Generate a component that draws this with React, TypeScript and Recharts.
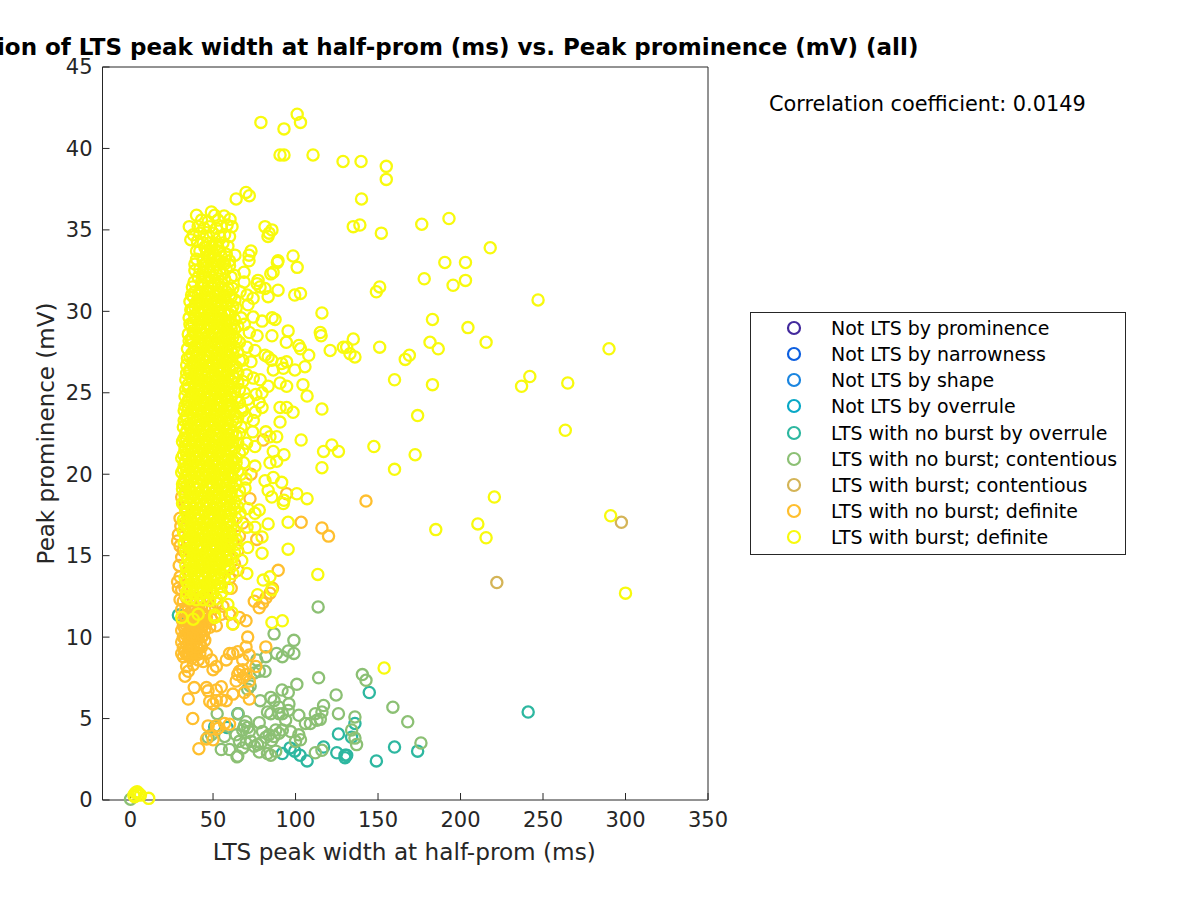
import { Legend, Scatter, ScatterChart, XAxis, YAxis } from "recharts"

type Pair = [number, number]

const xTicks = [0, 50, 100, 150, 200, 250, 300, 350]
const yTicks = [0, 5, 10, 15, 20, 25, 30, 35, 40, 45]

const titleText = "Correlation of LTS peak width at half-prom (ms) vs. Peak prominence (mV) (all)"
const correlationText = "Correlation coefficient: 0.0149"

const seriesNames = [
  "Not LTS by prominence",
  "Not LTS by narrowness",
  "Not LTS by shape",
  "Not LTS by overrule",
  "LTS with no burst by overrule",
  "LTS with no burst; contentious",
  "LTS with burst; contentious",
  "LTS with no burst; definite",
  "LTS with burst; definite",
]
const seriesColors = ["#42299c", "#0d5fe0", "#1a85e0", "#08a8c6", "#2db7a0", "#8cc074", "#d4b457", "#ffbf2e", "#f8fa0d"]

const notProminence: Pair[] = []
const notNarrowness: Pair[] = []
const notShape: Pair[] = []
const notOverrule: Pair[] = []

const noBurstOverrule: Pair[] = [
  [29, 11.35], [241, 5.4], [160, 3.25], [174, 3], [149, 2.4], [126, 4.05], [136, 4.7], [134, 3.85], [117, 3.25], [125, 2.9],
  [130, 2.75], [131, 2.75], [130, 2.6], [107, 2.4], [102.7, 2.75], [99.5, 3], [96.7, 3.2], [92, 2.85], [65, 5.3], [58.5, 4.45],
  [51, 4.5], [144.7, 6.6],
]

const noBurstContentious: Pair[] = [
  [0, 0.05], [113.7, 11.85], [87, 10.2], [99, 9.8], [99, 9], [95.6, 9.15], [92, 8.8], [88.5, 9], [82, 8.8], [76.5, 8.6],
  [81.5, 7.9], [78, 7.9], [75, 7.8], [114, 7.5], [140.5, 7.7], [142.7, 7.35], [100.8, 7.1], [72.5, 7], [71, 6.8], [91.8, 6.75],
  [95.6, 6.6], [85, 6.3], [87, 6.1], [124.6, 6.45], [78.6, 6.1], [159, 5.7], [117, 5.8], [95.6, 5.5], [92, 5.3], [90, 5.3],
  [85, 5.3], [102, 5.2], [126, 5.3], [112, 5.3], [116, 5.4], [115, 4.95], [113, 4.9], [109, 4.7], [136, 5.1], [65.3, 5.3],
  [52.5, 5.3], [94, 4.9], [78, 4.75], [70, 4.8], [69, 4.55], [68, 4.3], [64, 4], [57, 3.9], [71, 4.45], [72, 4.2],
  [168, 4.8], [134, 4.3], [136, 3.8], [137, 3.4], [176, 3.5], [84, 4], [87, 3.9], [90, 4.1], [92, 4.3], [97, 4.2],
  [100, 3.6], [102, 4], [103, 3.7], [79, 3.5], [75, 3.3], [70, 3.5], [68, 3.2], [66, 3.6], [73, 3.6], [77, 3.4],
  [60, 3.1], [65, 2.7], [64.5, 2.65], [78, 2.95], [83, 2.85], [85, 2.75], [88, 3], [112, 2.9], [116, 3.05], [55, 3.1],
  [49, 4], [47, 3.85], [82, 3.85], [85.5, 3.65], [80, 4.2], [88, 4.3], [106, 4.7], [96, 5.9], [90, 5.7], [83, 5.4],
]

const burstContentious: Pair[] = [
  [297.5, 17.05], [222, 13.35],
]

const noBurstDefinite: Pair[] = [
  [142.7, 18.35], [116, 16.7], [120, 16.2], [89.5, 14.1], [82, 9.4], [37.7, 5], [41.4, 3.15], [35, 6.2], [38.6, 6.9], [46, 6.9],
  [47, 6.7], [52, 6.75], [55, 6.95], [62, 6.5], [64, 7.3], [69, 6.6], [72, 6.2], [48, 6.05], [52, 6.1], [55, 6.15],
  [58, 6.1], [50, 5.9], [46, 3.75], [50, 3.7], [53, 4.4], [47, 4.55], [52, 4.55], [57, 4.7], [60, 4.65], [80.4, 22.1],
  [73, 20], [72.4, 18.5], [94.6, 18.8], [103.4, 17.05], [76.5, 16], [65, 14.1], [75, 12.2], [78, 11.8], [80, 12.1], [82, 12.4],
  [84.5, 12.7], [86, 13], [70, 11], [66, 11.2], [62, 10.8], [60, 11.4], [56, 11.9], [52, 12.1], [71, 10], [70, 9.4],
  [65, 9.1], [62, 9], [68, 8.6], [72, 8.9], [76, 8.2], [68, 8], [65, 7.7], [66, 7.9], [68, 7.5], [70, 7.7],
  [72, 7.3], [58, 8.6], [60, 9], [52, 8.2], [50, 8], [49, 8.6], [46, 9], [44, 8.5], [33, 7.6], [35, 7.9],
  [34, 8.2], [38, 8.3], [37, 8.7], [41, 8.6], [31, 9], [33, 9.1], [35, 9], [37, 9.2], [39, 9.1], [41, 9.3],
  [43, 9.4], [31, 9.7], [33, 9.9], [35, 9.7], [37, 9.9], [39, 9.7], [41, 9.9], [43, 10], [45, 9.8], [31, 10.4],
  [33, 10.5], [35, 10.3], [37, 10.5], [39, 10.3], [41, 10.5], [43, 10.6], [45, 10.4], [48, 10.6], [31.5, 11], [34, 11.1],
  [36, 10.9], [38, 11.1], [40, 10.9], [42, 11.1], [44, 11], [46, 11.2], [49, 11.1], [52, 10.7], [31, 11.7], [33, 11.6],
  [35, 11.8], [37, 11.6], [39, 11.8], [41, 11.6], [43, 11.8], [45, 11.7], [48, 11.9], [55, 11.4], [30, 12.3], [32, 12.2],
  [34, 12.4], [36, 12.2], [38, 12.4], [40, 12.2], [42, 12.4], [44, 12.3], [47, 12.4], [29, 13], [31, 12.9], [33, 13],
  [28.5, 13.4], [30, 13.7], [29.5, 14.4], [31, 14.9], [30, 15.6], [28.5, 15.9], [29, 16.3], [30.5, 16.8], [30, 17.3], [31, 18.6],
  [32, 19.4], [33, 18], [32, 15.3], [61, 13], [60, 13.6], [63, 14.5], [65, 15.3], [62, 15.9], [68, 17], [66, 16.2],
  // solid patch under the core
  [32, 8.8], [34, 8.95], [36, 8.85], [38, 9], [40, 8.9], [42, 9], [32, 9.35], [34, 9.5], [36, 9.35], [38, 9.5],
  [40, 9.4], [42, 9.6], [32, 10], [34, 10.1], [36, 10], [38, 10.1], [40, 10], [42, 10.2], [44, 10.1], [32, 10.7],
  [34, 10.7], [36, 10.6], [38, 10.7], [40, 10.6], [42, 10.7], [44, 10.7], [33, 11.3], [35, 11.4], [37, 11.3], [39, 11.4],
  [41, 11.3], [43, 11.4], [45, 11.35],
]

const burstDefinite: Pair[] = [
  // near the origin
  [2, 0.3], [3, 0.45], [4, 0.5], [2.5, 0.2], [5, 0.4], [6, 0.3], [11, 0.1],
  // far points
  [79, 41.6], [101, 42.1], [93, 41.2], [103, 41.6], [90.6, 39.6], [93, 39.6], [110.6, 39.6], [128.8, 39.2], [139.7, 39.2], [155, 38.9],
  [155, 38.1], [140, 36.9], [64, 36.9], [70, 37.3], [72, 37.1], [135, 35.2], [139, 35.3], [152, 34.8], [176.5, 35.35], [193, 35.7],
  [218, 33.9], [190.5, 33], [203, 33], [203, 31.9], [195.5, 31.6], [178, 32], [151, 31.5], [149, 31.2], [247, 30.7], [89, 33],
  [98.5, 33.4], [101, 32.7], [103, 31.1], [99.5, 31], [116, 29.9], [183, 29.5], [204.5, 29], [115, 28.7], [115.5, 28.5], [290, 27.7],
  [215.5, 28.1], [181.5, 28.1], [186.5, 27.7], [135, 28.3], [131, 27.8], [129, 27.8], [133, 27.4], [136, 27.2], [151, 27.8], [169, 27.3],
  [166.5, 27.05], [121, 27.6], [160, 25.8], [242, 26], [265, 25.6], [237, 25.4], [183, 25.5], [116, 24], [174, 23.6], [263.5, 22.7],
  [122, 21.8], [117, 21.4], [126, 21.4], [147.5, 21.7], [172.5, 21.2], [116, 20.4], [160, 20.3], [220.5, 18.6], [210.5, 16.95], [215.5, 16.1],
  [185, 16.6], [291, 17.45], [300, 12.7], [113.5, 13.85], [153.7, 8.1], [92, 11], [95.5, 15.4], [85.7, 10.9],
  [31, 11.2], [38, 11.1], [51, 11.35], [61.5, 11.5], [62, 10.8], [59, 12], [77, 12.6], [85.6, 12.9],
  // loose band right of the core
  [81.5, 35.2], [85.7, 35], [83.3, 34.6], [84, 34.8], [73, 33.7], [71.8, 33.45], [71.8, 33.1], [63.3, 33.45], [89.4, 33.1], [86.4, 32.4],
  [85, 32.3], [68.8, 32.4], [68.8, 31.8], [77.3, 31.9], [76.7, 31.7], [78.5, 31.5], [81.5, 31.4], [89.4, 31.3], [83.4, 30.9], [66.4, 31.2],
  [70.6, 31], [74.3, 30.8], [71.2, 30.4], [63.3, 30.7], [74.3, 29.65], [85.8, 29.6], [87.6, 29.5], [79.7, 29.4], [95.5, 28.8], [76.7, 28.5],
  [85.7, 28.5], [94.4, 28.1], [102, 27.9], [103, 27.7], [108, 27.3], [70.5, 27.8], [75.4, 27.6], [81.5, 27.3], [83.4, 27.2], [85.6, 27],
  [86.5, 26.4], [91.6, 26.8], [94.6, 26.9], [92.6, 26.5], [99.6, 26.4], [105.7, 26.6], [70.4, 26.1], [74.4, 25.9], [78.6, 25.8], [90.6, 25.6],
  [94.6, 25.4], [83.4, 25.4], [104.5, 25.5], [107, 24.8], [79.7, 25], [78, 24.4], [79.7, 24.1], [75.5, 23.8], [74.4, 23.3], [70.4, 23.5],
  [90.6, 24.1], [94.6, 24.1], [98.5, 23.8], [90.6, 23.2], [82, 22.6], [84.5, 22.3], [88.6, 22.3], [103.4, 22.1], [70.4, 21.9], [75.4, 21.7],
  [86.5, 21.4], [93, 21.2], [68.5, 20.7], [75.4, 20.5], [84.5, 20.7], [88.6, 20.8], [81.5, 19.6], [86.5, 19.8], [91.6, 19.5], [100.8, 18.8],
  [83.4, 19], [85.6, 18.6], [92.6, 18.2], [107, 18.5], [93, 18.4], [69.4, 19.15], [78, 17.8], [75.4, 17.6], [71, 17.9], [66.4, 17.6],
  [70.6, 16.75], [75.4, 16.75], [83.4, 16.95], [95.5, 17.05], [79.7, 15.15], [79.7, 16.15], [71, 15.5], [84.5, 13.7], [80.4, 13.5], [70.5, 13.9],
  [67.4, 14.7], [62, 22], [64, 23.2], [66, 24.4], [63, 25.1], [65, 26.2], [62, 27.4], [66, 28.1], [63, 28.9], [67, 29.6],
  [64, 21], [66, 22.5], [68, 23.9], [62, 19.8], [65, 18.7], [63, 17.9], [61, 16.8], [64, 16], [62, 14.9], [60, 14.2],
  [68, 27], [69, 25], [71, 24.6], [67, 20], [70, 19.7], [74, 22.6], [72, 28.7], [69, 29.2], [73, 26.9], [76, 24.9],
  // thin top of the core
  [40, 35.9], [49, 36.1], [51, 35.9], [56.7, 35.85], [60.3, 35.65], [43, 35.6], [47, 35.5], [53, 35.6], [35.6, 35.2], [41, 35.2],
  [44.5, 35.1], [48, 35.2], [52, 35.1], [55, 35.2], [58.5, 35.3], [61.5, 35.2], [38, 34.7], [42, 34.8], [46, 34.6], [50, 34.8],
  [54, 34.6], [57, 34.7], [60, 34.6], [36.5, 34.4], [40.5, 34.3], [44, 34.2], [48, 34.2], [52, 34.1], [56, 34.2], [59, 34],
  [42, 33.7], [46, 33.7], [50, 33.6], [54, 33.7], [58, 33.5], [40, 33.2], [44, 33.1], [48, 33.2], [52, 33.1], [56, 33],
  [60, 33.1], [42, 32.6], [46, 32.7], [50, 32.6], [54, 32.5], [58, 32.6], [39, 32.5], [41, 32.1], [45, 32.1], [49, 32.1],
  [53, 32], [57, 32], [61, 32.1], [37.5, 31.5], [39, 31.2], [43, 31.6], [47, 31.5], [51, 31.6], [55, 31.5], [59, 31.4],
  [37, 31], [41, 31], [45, 31], [49, 30.9], [53, 31], [57, 30.9], [61, 30.9],
  // solid core, read row by row
  [36, 30.6], [39.5, 30.5], [43, 30.5], [47, 30.4], [51, 30.5], [55, 30.4], [59, 30.5], [37.5, 30.1], [41, 30], [45, 30],
  [49, 29.9], [53, 30], [57, 29.9], [61, 30], [35.5, 29.6], [39, 29.6], [43, 29.5], [47, 29.6], [51, 29.5], [55, 29.5],
  [59, 29.4], [37, 29.1], [41, 29.1], [45, 29], [49, 29.1], [53, 29], [57, 29], [61, 28.9], [35, 28.6], [39, 28.6],
  [43, 28.6], [47, 28.5], [51, 28.6], [55, 28.5], [59, 28.5], [37, 28.2], [41, 28.1], [45, 28.1], [49, 28.1], [53, 28],
  [57, 28.1], [60.5, 28], [34.5, 27.7], [38.5, 27.6], [42.5, 27.7], [46.5, 27.6], [50.5, 27.6], [54.5, 27.7], [58.5, 27.6], [36, 27.2],
  [40, 27.2], [44, 27.1], [48, 27.2], [52, 27.1], [56, 27.1], [60, 27.2], [34, 26.7], [38, 26.7], [42, 26.7], [46, 26.6],
  [50, 26.7], [54, 26.6], [58, 26.7], [62, 26.6], [35.5, 26.3], [39.5, 26.2], [43.5, 26.2], [47.5, 26.2], [51.5, 26.1], [55.5, 26.2],
  [59.5, 26.1], [33.5, 25.8], [37.5, 25.7], [41.5, 25.8], [45.5, 25.7], [49.5, 25.7], [53.5, 25.8], [57.5, 25.7], [61.5, 25.7], [35, 25.3],
  [39, 25.3], [43, 25.2], [47, 25.3], [51, 25.2], [55, 25.2], [59, 25.3], [33, 24.8], [37, 24.8], [41, 24.8], [45, 24.7],
  [49, 24.8], [53, 24.7], [57, 24.8], [61, 24.7], [34.5, 24.4], [38.5, 24.3], [42.5, 24.3], [46.5, 24.3], [50.5, 24.2], [54.5, 24.3],
  [58.5, 24.2], [32.5, 23.9], [36.5, 23.8], [40.5, 23.9], [44.5, 23.8], [48.5, 23.8], [52.5, 23.9], [56.5, 23.8], [60.5, 23.8], [34, 23.4],
  [38, 23.4], [42, 23.3], [46, 23.4], [50, 23.3], [54, 23.3], [58, 23.4], [62, 23.3], [32, 22.9], [36, 22.9], [40, 22.9],
  [44, 22.8], [48, 22.9], [52, 22.8], [56, 22.9], [60, 22.8], [33.5, 22.5], [37.5, 22.4], [41.5, 22.4], [45.5, 22.4], [49.5, 22.3],
  [53.5, 22.4], [57.5, 22.3], [61.5, 22.4], [31.5, 22], [35.5, 21.9], [39.5, 22], [43.5, 21.9], [47.5, 21.9], [51.5, 22], [55.5, 21.9],
  [59.5, 21.9], [33, 21.5], [37, 21.5], [41, 21.4], [45, 21.5], [49, 21.4], [53, 21.4], [57, 21.5], [61, 21.4], [31, 21],
  [35, 21], [39, 21], [43, 20.9], [47, 21], [51, 20.9], [55, 21], [59, 20.9], [32.5, 20.6], [36.5, 20.5], [40.5, 20.5],
  [44.5, 20.5], [48.5, 20.4], [52.5, 20.5], [56.5, 20.4], [60.5, 20.5], [31, 20.1], [35, 20], [39, 20.1], [43, 20], [47, 20],
  [51, 20.1], [55, 20], [59, 20], [32.5, 19.6], [36.5, 19.6], [40.5, 19.5], [44.5, 19.6], [48.5, 19.5], [52.5, 19.5], [56.5, 19.6],
  [60, 19.5], [31.5, 19.1], [35.5, 19.1], [39.5, 19.1], [43.5, 19], [47.5, 19.1], [51.5, 19], [55.5, 19.1], [59, 19], [33, 18.7],
  [37, 18.6], [41, 18.6], [45, 18.6], [49, 18.5], [53, 18.6], [57, 18.5], [61, 18.6], [32, 18.2], [36, 18.1], [40, 18.2],
  [44, 18.1], [48, 18.1], [52, 18.2], [56, 18.1], [60, 18.1], [33.5, 17.7], [37.5, 17.7], [41.5, 17.6], [45.5, 17.7], [49.5, 17.6],
  [53.5, 17.6], [57.5, 17.7], [32, 17.2], [36, 17.2], [40, 17.2], [44, 17.1], [48, 17.2], [52, 17.1], [56, 17.2], [60, 17.1],
  [34, 16.8], [38, 16.7], [42, 16.7], [46, 16.7], [50, 16.6], [54, 16.7], [58, 16.6], [33, 16.3], [37, 16.2], [41, 16.3],
  [45, 16.2], [49, 16.2], [53, 16.3], [57, 16.2], [61, 16.2], [35, 15.8], [39, 15.8], [43, 15.7], [47, 15.8], [51, 15.7],
  [55, 15.7], [59, 15.8], [33.5, 15.3], [37.5, 15.3], [41.5, 15.3], [45.5, 15.2], [49.5, 15.3], [53.5, 15.2], [57.5, 15.3], [35, 14.9],
  [39, 14.8], [43, 14.8], [47, 14.8], [51, 14.7], [55, 14.8], [59, 14.7], [33.5, 14.4], [37.5, 14.3], [41.5, 14.4], [45.5, 14.3],
  [49.5, 14.3], [53.5, 14.4], [57, 14.3], [35, 13.9], [39, 13.9], [43, 13.8], [47, 13.9], [51, 13.8], [55, 13.8], [34, 13.4],
  [38, 13.4], [42, 13.4], [46, 13.3], [50, 13.4], [54, 13.3], [36, 12.9], [40, 12.9], [44, 12.8], [48, 12.9], [34, 12.5],
  [41, 11.4], [51, 11.2], [55, 12.7], [59, 13],
]

// second pass over the core, where the rings close up into a solid block
const burstDefiniteCore: Pair[] = [
  [36, 12.35], [40, 12.3], [44, 12.3], [48, 12.25], [52, 12.35], [34, 12.75], [38, 12.7], [42, 12.7], [46, 12.75], [50, 12.7],
  [35, 13.15], [39, 13.2], [43, 13.1], [47, 13.15], [51, 13.2], [55, 13.1], [33, 13.65], [37, 13.6], [41, 13.6], [45, 13.65],
  [49, 13.6], [53, 13.55], [57, 13.6], [34, 14.1], [38, 14.15], [42, 14.1], [46, 14.05], [50, 14.1], [54, 14.15], [58, 14.1],
  [36, 14.55], [40, 14.6], [44, 14.55], [48, 14.5], [52, 14.55], [56, 14.6], [34, 15.05], [38, 15.05], [42, 15], [46, 15.1],
  [50, 15.05], [54, 15], [58, 15.05], [36, 15.5], [40, 15.55], [44, 15.5], [48, 15.45], [52, 15.5], [56, 15.5], [60, 15.55],
  [34, 16], [38, 16.05], [42, 16], [46, 15.95], [50, 16], [54, 16.05], [58, 16], [36, 16.45], [40, 16.5], [44, 16.45],
  [48, 16.4], [52, 16.45], [56, 16.5], [60, 16.45], [34, 16.95], [38, 16.95], [42, 16.9], [46, 17], [50, 16.95], [54, 16.9],
  [58, 16.95], [35, 17.4], [39, 17.45], [43, 17.4], [47, 17.35], [51, 17.4], [55, 17.45], [59, 17.4], [34, 17.9], [38, 17.9],
  [42, 17.85], [46, 17.95], [50, 17.9], [54, 17.85], [58, 17.9], [34, 18.35], [38, 18.4], [42, 18.35], [46, 18.3], [50, 18.35],
  [54, 18.4], [58, 18.35], [33, 18.85], [37, 18.85], [41, 18.8], [45, 18.9], [49, 18.85], [53, 18.8], [57, 18.85], [61, 18.9],
  [34, 19.3], [38, 19.35], [42, 19.3], [46, 19.25], [50, 19.3], [54, 19.35], [58, 19.3], [33, 19.8], [37, 19.8], [41, 19.75],
  [45, 19.85], [49, 19.8], [53, 19.75], [57, 19.8], [61, 19.85], [34, 20.25], [38, 20.3], [42, 20.25], [46, 20.2], [50, 20.25],
  [54, 20.3], [58, 20.25], [33, 20.75], [37, 20.75], [41, 20.7], [45, 20.8], [49, 20.75], [53, 20.7], [57, 20.75], [61, 20.8],
  [34, 21.2], [38, 21.25], [42, 21.2], [46, 21.15], [50, 21.2], [54, 21.25], [58, 21.2], [33, 21.7], [37, 21.7], [41, 21.65],
  [45, 21.75], [49, 21.7], [53, 21.65], [57, 21.7], [61, 21.75], [34, 22.15], [38, 22.2], [42, 22.15], [46, 22.1], [50, 22.15],
  [54, 22.2], [58, 22.15], [34, 22.65], [38, 22.65], [42, 22.6], [46, 22.7], [50, 22.65], [54, 22.6], [58, 22.65], [35, 23.1],
  [39, 23.15], [43, 23.1], [47, 23.05], [51, 23.1], [55, 23.15], [59, 23.1], [34, 23.6], [38, 23.6], [42, 23.55], [46, 23.65],
  [50, 23.6], [54, 23.55], [58, 23.6], [35, 24.05], [39, 24.1], [43, 24.05], [47, 24], [51, 24.05], [55, 24.1], [59, 24.05],
  [35, 24.55], [39, 24.55], [43, 24.5], [47, 24.6], [51, 24.55], [55, 24.5], [59, 24.55], [37, 25], [41, 25.05], [45, 25],
  [49, 24.95], [53, 25], [57, 25.05], [35, 25.5], [39, 25.5], [43, 25.45], [47, 25.55], [51, 25.5], [55, 25.45], [59, 25.5],
  [37, 25.95], [41, 26], [45, 25.95], [49, 25.9], [53, 25.95], [57, 26], [36, 26.45], [40, 26.45], [44, 26.4], [48, 26.5],
  [52, 26.45], [56, 26.4], [60, 26.45], [38, 26.9], [42, 26.95], [46, 26.9], [50, 26.85], [54, 26.9], [58, 26.95], [37, 27.4],
  [41, 27.4], [45, 27.35], [49, 27.45], [53, 27.4], [57, 27.35], [39, 27.85], [43, 27.9], [47, 27.85], [51, 27.8], [55, 27.85],
  [59, 27.9], [37, 28.35], [41, 28.35], [45, 28.3], [49, 28.4], [53, 28.35], [57, 28.3], [38, 28.8], [42, 28.85], [46, 28.8],
  [50, 28.75], [54, 28.8], [58, 28.85], [38, 29.3], [42, 29.3], [46, 29.25], [50, 29.35], [54, 29.3], [58, 29.25], [39, 29.75],
  [43, 29.8], [47, 29.75], [51, 29.7], [55, 29.75], [59, 29.8], [39, 30.25], [43, 30.25], [47, 30.2], [51, 30.3], [55, 30.25],
  [41, 30.7], [45, 30.75], [49, 30.7], [53, 30.65], [57, 30.7], [42, 31.2], [46, 31.25], [50, 31.2], [54, 31.15], [58, 31.2],
  [43, 31.8], [47, 31.8], [51, 31.75], [55, 31.8], [44, 32.35], [48, 32.4], [52, 32.35], [56, 32.3], [45, 32.9], [49, 32.9],
  [53, 32.85], [57, 32.9], [47, 33.4], [51, 33.4], [55, 33.35], [45, 33.95], [49, 33.95], [53, 33.9],
]

// edges of the solid block, thicker on the right side
const burstDefiniteEdge: Pair[] = [
  [62, 13.9], [59, 14.4], [63, 15.2], [60, 15], [64, 15.7], [61, 15.9], [63, 16.5], [59, 16.2], [64, 17.3], [61, 17.6],
  [63, 18.3], [65, 18], [60, 18.7], [62, 19.2], [64, 19.4], [66, 19], [61, 20], [63, 20.4], [65, 20.2], [62, 20.9],
  [64, 20.7], [66, 21.3], [63, 21.6], [65, 21.9], [68, 21.5], [60, 22.2], [62, 22.6], [64, 22.4], [67, 22.9], [63, 23.7],
  [65, 23.5], [67, 24], [60, 24.3], [62, 24.2], [64, 24.7], [66, 25.2], [61, 25.3], [63, 25.9], [65, 25.6], [68, 25.7],
  [60, 26.9], [62, 26], [64, 26.6], [66, 27], [61, 27.6], [63, 27.8], [65, 27.5], [60, 28.4], [62, 28.4], [64, 28.3],
  [61, 29.2], [63, 29.5], [65, 29.1], [60, 29.8], [62, 30.3], [64, 30.2], [60, 31], [62, 31.4], [63, 32.2], [60, 32.8],
  [32.5, 15.8], [32, 16.5], [32.5, 17], [31.5, 18.2], [31.5, 19.4], [32, 20.3], [32, 21.2], [32.5, 22.2], [32.5, 23.3], [33, 24.2],
  [33.5, 25.2], [34, 26.2], [34.5, 27.1], [35.5, 28.2], [36, 29.2], [36.5, 30.1], [38, 30.9], [38.5, 31.8], [39, 32.9], [40, 33.7],
]

const seriesValues = [
  notProminence,
  notNarrowness,
  notShape,
  notOverrule,
  noBurstOverrule,
  noBurstContentious,
  burstContentious,
  noBurstDefinite,
  [...burstDefinite, ...burstDefiniteCore, ...burstDefiniteEdge],
]

const fontFamily = "'DejaVu Sans', sans-serif"
const axisColor = "#262626"

const toPoints = (values: Pair[]) => values.map(([x, y]) => ({ x, y }))

const Ring = (props: any) => {
  const { cx, cy, stroke } = props
  if (cx == null || cy == null) return null
  return <circle cx={cx} cy={cy} r={5.6} fill="none" stroke={stroke} strokeWidth={2.3} />
}

const LegendBox = () => (
  <div
    style={{
      width: 376,
      height: 243,
      border: "1px solid #262626",
      background: "#fff",
      fontFamily,
      fontSize: 18.95,
      color: "#000",
      boxSizing: "border-box",
      paddingTop: 2,
    }}
  >
    {seriesNames.map((name, i) => (
      <div key={name} style={{ display: "flex", alignItems: "center", height: 26.15, whiteSpace: "nowrap" }}>
        <svg width={80} height={26} style={{ flex: "none" }}>
          <circle cx={43} cy={13} r={6} fill="none" stroke={seriesColors[i]} strokeWidth={2.2} />
        </svg>
        <span>{name}</span>
      </div>
    ))}
  </div>
)

export default function App() {
  const tick = { fill: axisColor, fontFamily, fontSize: 21 }
  const axisLine = { stroke: axisColor, strokeWidth: 1 }

  return (
    <div style={{ position: "absolute", left: 0, top: 0, width: 1200, height: 900, overflow: "hidden", background: "#fff" }}>
      <ScatterChart width={1200} height={900} margin={{ top: 66, right: 491, bottom: 40, left: 42.5 }}>
        <XAxis
          xAxisId="bottom"
          type="number"
          dataKey="x"
          domain={[-17, 350]}
          ticks={xTicks}
          height={60}
          tickSize={-7}
          tickMargin={19}
          tick={tick}
          axisLine={axisLine}
          tickLine={axisLine}
          allowDataOverflow
          interval={0}
          label={{ value: "LTS peak width at half-prom (ms)", position: "insideBottom", offset: 0, dx: -1, fill: axisColor, fontFamily, fontSize: 23.2 }}
        />
        <XAxis
          xAxisId="top"
          orientation="top"
          type="number"
          domain={[-17, 350]}
          ticks={xTicks}
          height={1}
          tickSize={-7}
          tick={false}
          axisLine={axisLine}
          tickLine={axisLine}
          interval={0}
        />
        <YAxis
          yAxisId="left"
          type="number"
          dataKey="y"
          domain={[0, 45]}
          ticks={yTicks}
          width={60}
          tickSize={-7}
          tickMargin={17}
          tick={tick}
          axisLine={axisLine}
          tickLine={axisLine}
          interval={0}
          label={{ value: "Peak prominence (mV)", angle: -90, position: "insideLeft", offset: 3, style: { textAnchor: "middle" }, fill: axisColor, fontFamily, fontSize: 23 }}
        />
        <YAxis
          yAxisId="right"
          orientation="right"
          type="number"
          domain={[0, 45]}
          ticks={yTicks}
          width={1}
          tickSize={-7}
          tick={false}
          axisLine={axisLine}
          tickLine={axisLine}
          interval={0}
        />
        {seriesNames.map((name, i) => (
          <Scatter
            key={name}
            name={name}
            xAxisId="bottom"
            yAxisId="left"
            data={toPoints(seriesValues[i])}
            stroke={seriesColors[i]}
            fill="none"
            shape={Ring}
            isAnimationActive={false}
          />
        ))}
        <Legend
          layout="vertical"
          align="center"
          verticalAlign="middle"
          content={() => <LegendBox />}
          wrapperStyle={{ position: "absolute", left: 750, top: 312, width: 376, height: 243 }}
        />
        <text x={405} y={55} textAnchor="middle" fontFamily={fontFamily} fontSize={23} fontWeight="bold" fill="#000">
          {titleText}
        </text>
        <text x={769} y={111} fontFamily={fontFamily} fontSize={20.85} fill="#000">
          {correlationText}
        </text>
      </ScatterChart>
    </div>
  )
}
